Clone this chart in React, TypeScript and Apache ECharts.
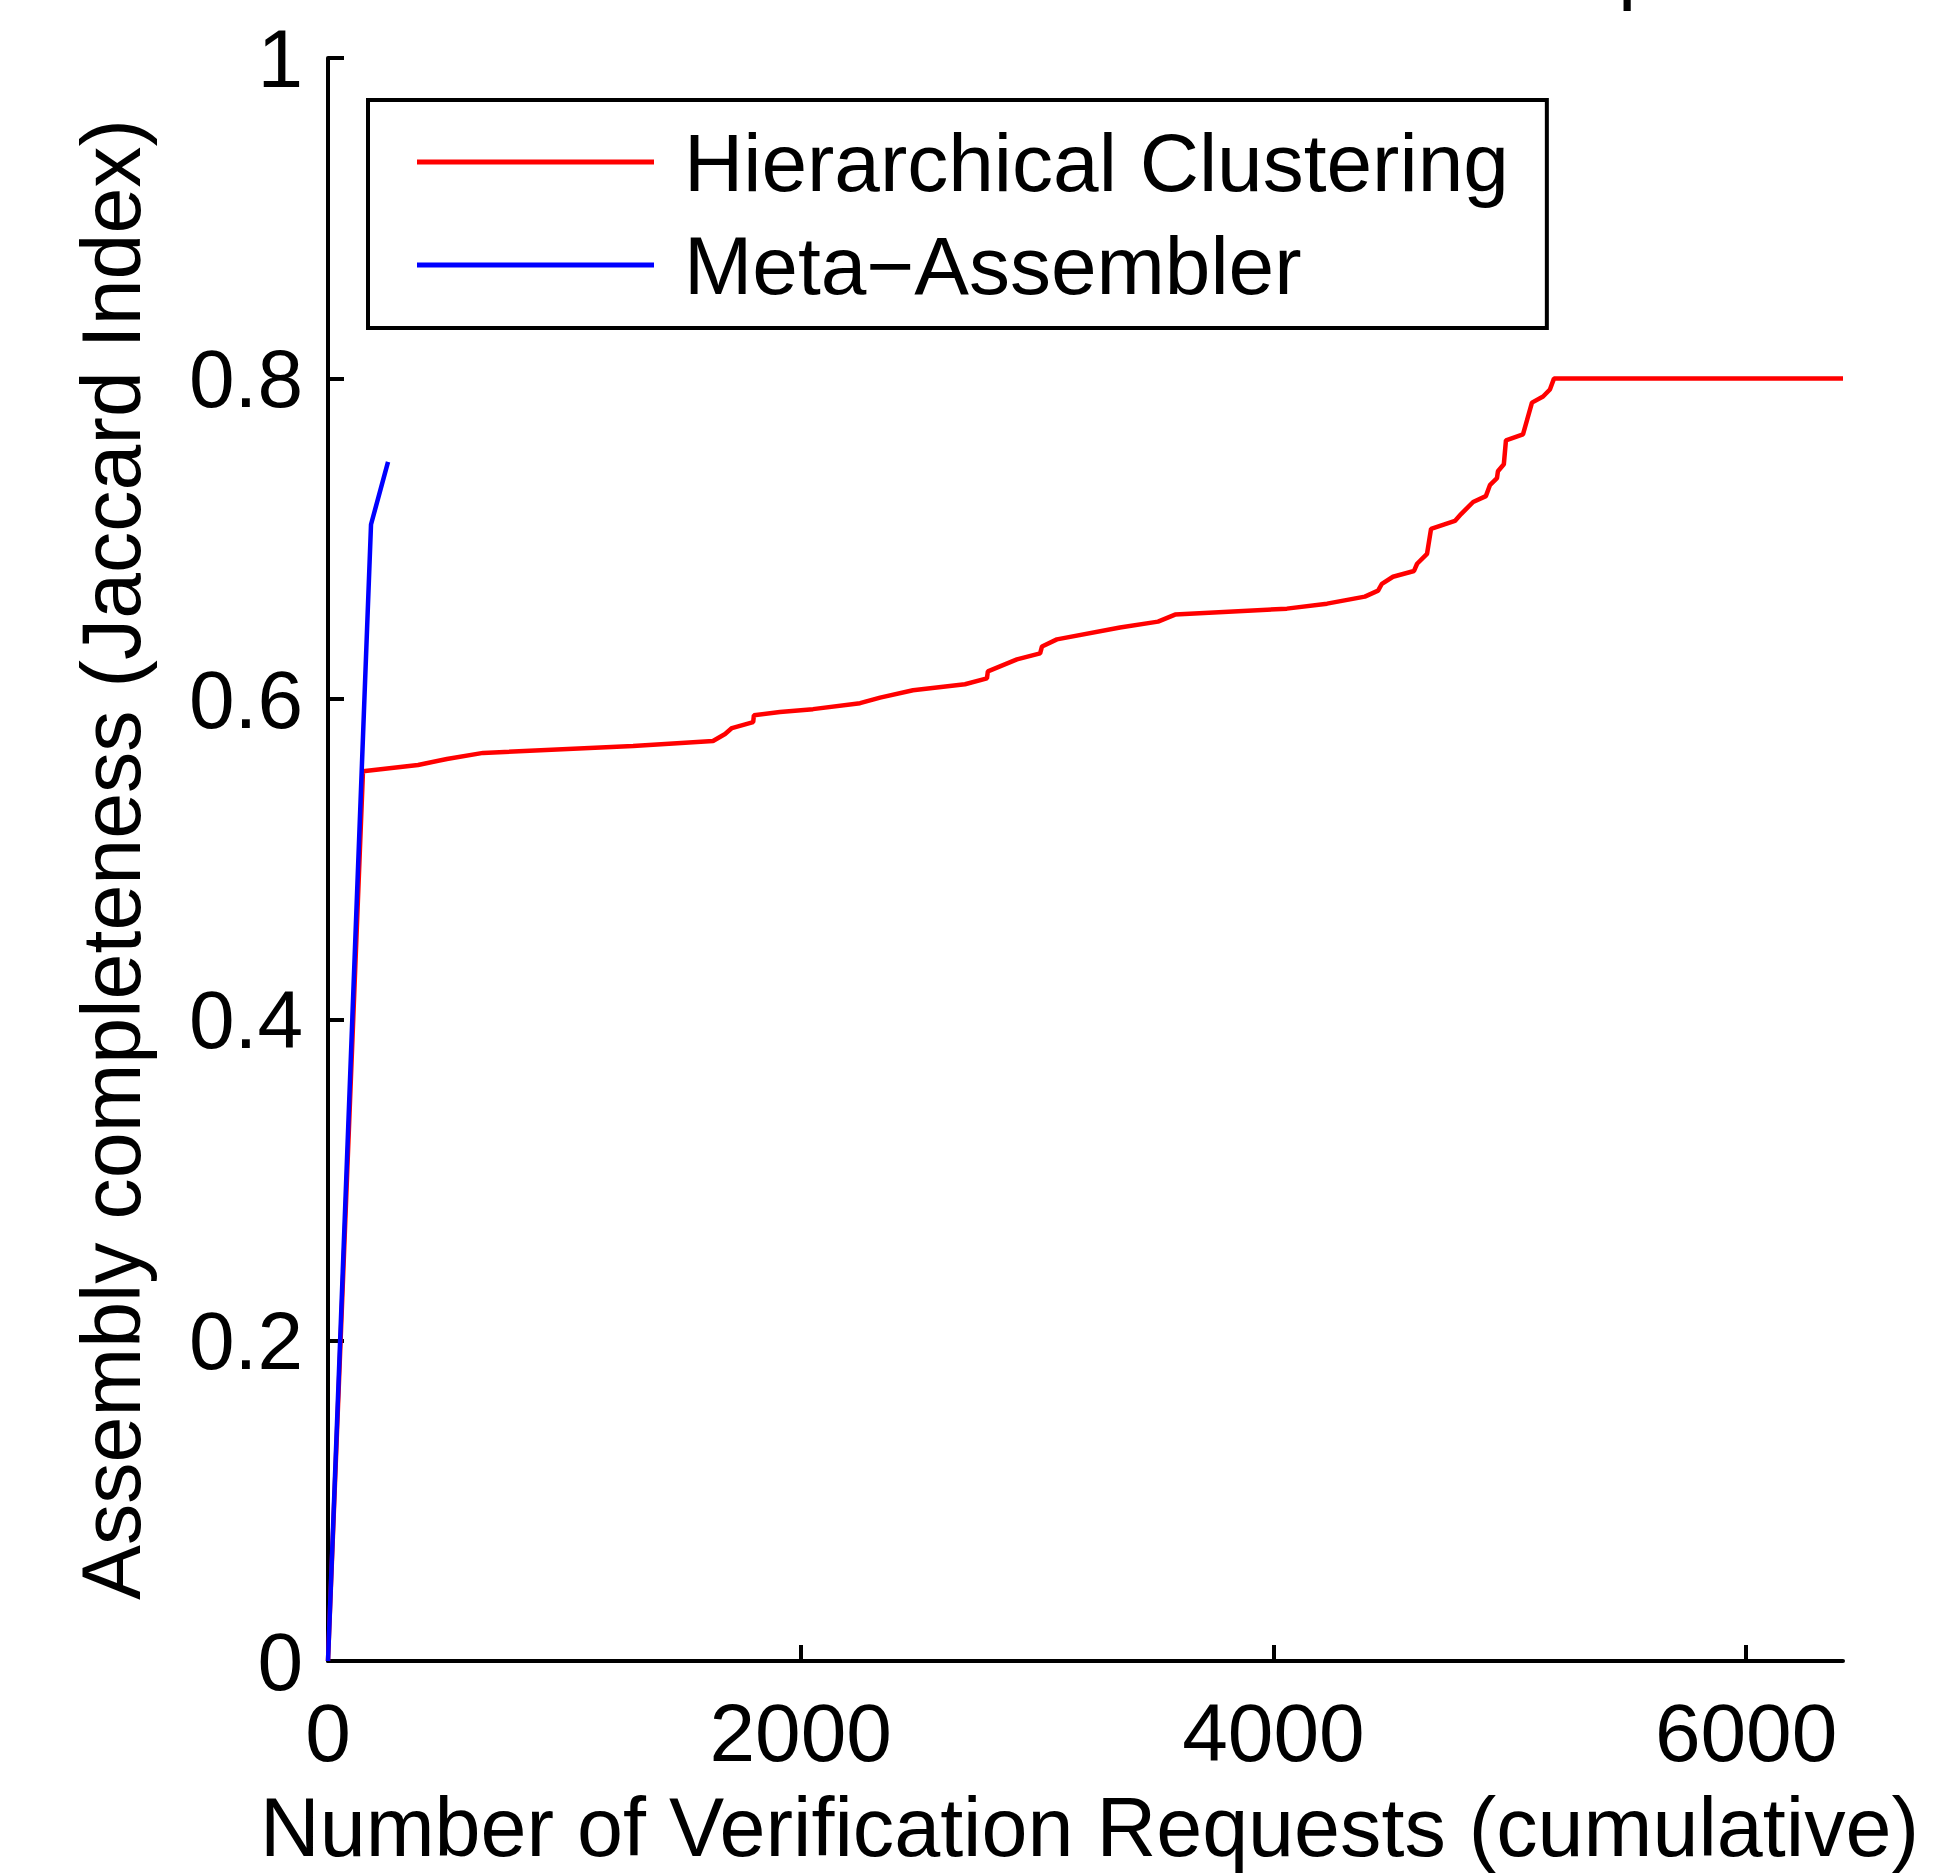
import React, { useEffect, useRef } from "react";
import * as echarts from "echarts";

const hcX = [0, 148, 381, 503, 656, 1291, 1629, 1680, 1709, 1799, 1802, 1912, 2052, 2251, 2336, 2475, 2695, 2788, 2792, 2915, 3013, 3021, 3084, 3351, 3512, 3584, 4057, 4227, 4387, 4443, 4459, 4506, 4595, 4608, 4650, 4667, 4768, 4794, 4845, 4899, 4916, 4946, 4950, 4975, 4984, 5056, 5094, 5141, 5170, 5187, 6410];
const hcY = [0, 0.555, 0.559, 0.5627, 0.5665, 0.5708, 0.5739, 0.5783, 0.582, 0.5857, 0.59, 0.592, 0.5938, 0.5975, 0.601, 0.6056, 0.6093, 0.613, 0.6174, 0.6248, 0.6286, 0.6329, 0.6373, 0.6447, 0.6484, 0.6528, 0.6565, 0.6596, 0.664, 0.6677, 0.672, 0.6764, 0.68, 0.6845, 0.6907, 0.7062, 0.7112, 0.7155, 0.723, 0.7267, 0.7335, 0.7379, 0.7422, 0.7466, 0.7615, 0.7652, 0.785, 0.7888, 0.7932, 0.8, 0.8];

const maX = [0, 182, 254];
const maY = [0, 0.709, 0.748];

const xTicks = [0, 2000, 4000, 6000];
const seriesNames = ["Hierarchical Clustering", "Meta\u2212Assembler"];
const xTitle = "Number of Verification Requests (cumulative)";
const yTitle = "Assembly completeness (Jaccard Index)";

const FONT = "'Liberation Sans', Arial, Helvetica, sans-serif";

export default function App() {
  const ref = useRef<HTMLDivElement>(null);
  useEffect(() => {
    document.body.style.margin = "0";
    document.body.style.overflow = "hidden";
    const chart = echarts.init(ref.current!, null, { renderer: "svg" });
    const axisLineStyle = { color: "#000", width: 4 };
    chart.setOption({
      animation: false,
      backgroundColor: "#fff",
      textStyle: { fontFamily: FONT },
      grid: { left: 328, top: 58, width: 1515, height: 1610, containLabel: false },
      legend: {
        left: 368,
        top: 100,
        orient: "vertical",
        padding: [21, 38, 22, 49],
        itemGap: 21,
        itemWidth: 237,
        itemHeight: 5,
        icon: "rect",
        borderColor: "#000",
        borderWidth: 4,
        backgroundColor: "#fff",
        textStyle: {
          fontFamily: FONT,
          fontSize: 82,
          lineHeight: 82,
          color: "#000",
          padding: [0, 0, 0, 25],
        },
        data: seriesNames,
      },
      xAxis: {
        type: "value",
        min: 0,
        max: 6410,
        interval: 2000,
        splitLine: { show: false },
        axisLine: { show: true, onZero: false, lineStyle: axisLineStyle },
        axisTick: { show: true, inside: true, length: 16, lineStyle: axisLineStyle, customValues: xTicks },
        axisLabel: {
          customValues: xTicks,
          formatter: (v: number) => String(v),
          fontFamily: FONT,
          fontSize: 82,
          color: "#000",
          margin: 30,
        },
        name: xTitle,
        nameLocation: "middle",
        nameGap: 125,
        nameTextStyle: { fontFamily: FONT, fontSize: 82.7, color: "#000", padding: [0, 0, 0, 8] },
      },
      yAxis: {
        type: "value",
        min: 0,
        max: 1,
        interval: 0.2,
        splitLine: { show: false },
        axisLine: { show: true, onZero: false, lineStyle: axisLineStyle },
        axisTick: { show: true, inside: true, length: 16, lineStyle: axisLineStyle },
        axisLabel: { fontFamily: FONT, fontSize: 82, color: "#000", margin: 25 },
        name: yTitle,
        nameLocation: "middle",
        nameGap: 176,
        nameTextStyle: { fontFamily: FONT, fontSize: 82.5, color: "#000" },
      },
      graphic: [
        {
          type: "text",
          x: 1618,
          y: -35,
          style: { text: "p", font: `82px ${FONT}`, fill: "#000", verticalAlign: "middle" },
        },
      ],
      series: [
        {
          name: seriesNames[0],
          type: "line",
          data: hcX.map((x, i) => [x, hcY[i]]),
          showSymbol: false,
          symbol: "none",
          itemStyle: { color: "#ff0000" },
          lineStyle: { color: "#ff0000", width: 4.5 },
        },
        {
          name: seriesNames[1],
          type: "line",
          data: maX.map((x, i) => [x, maY[i]]),
          showSymbol: false,
          symbol: "none",
          itemStyle: { color: "#0000ff" },
          lineStyle: { color: "#0000ff", width: 4.5 },
        },
      ],
    });
    return () => chart.dispose();
  }, []);
  return <div ref={ref} style={{ width: 1942, height: 1874 }} />;
}
